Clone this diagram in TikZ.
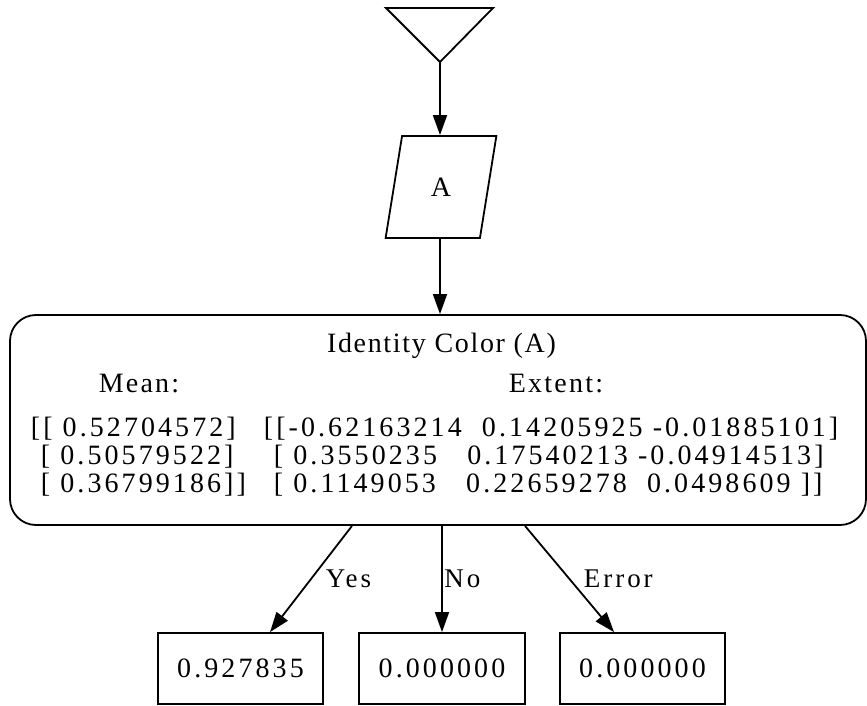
\documentclass[tikz,border=0pt]{standalone}
\usepackage{fontspec}
\setmainfont{Liberation Serif}[LetterSpace=11]
\newfontfamily\headfont{Liberation Serif}[LetterSpace=8]
\newfontfamily\titlefont{Liberation Serif}[LetterSpace=6]
\usetikzlibrary{arrows.meta,shapes.geometric,positioning}

\tikzset{
  data/.style={draw,trapezium,trapezium left angle=77,trapezium right angle=103,
    trapezium stretches=true,minimum width=111pt,minimum height=102pt,inner sep=0pt},
  bigbox/.style={draw,rounded corners=26pt,minimum width=856pt,minimum height=210pt},
  outbox/.style={draw,minimum width=165pt,minimum height=71pt,inner sep=0pt},
  txt/.style={inner sep=0pt,anchor=base},
  row/.style={inner sep=0pt,anchor=base west},
  lbl/.style={inner sep=0pt,anchor=west,font=\fontsize{27}{32}\selectfont}
}

\begin{document}
\begin{tikzpicture}[x=1pt,y=-1pt,>={Triangle[length=20pt,width=14pt]},line width=1.8pt,
  every node/.append style={font=\fontsize{28}{33}\selectfont}]
\useasboundingbox (0,0) rectangle (867,706);
% start marker
\draw (386,8) -- (493,8) -- (440,62) -- cycle;
\coordinate (start) at (440,62);
\node[data] (A) at (441,187) {A};
\node[bigbox] (ident) at (438,420) {};
% text of the big box
\node[txt] (title) at (441.5,352) {\titlefont Identity Color (A)};
\node[txt] (meanhd) at (139,392) {\headfont Mean:};
\node[txt] (exthd) at (556,392) {\headfont Extent:};
\node[row] (m1) at (30,436) {[[ 0.52704572]};
\node[row] (m2) at (30,464) {~[ 0.50579522]};
\node[row] (m3) at (30,492) {~[ 0.36799186]]};
\node[row] (e1) at (263,436) {[[-0.62163214~~0.14205925 -0.01885101]};
\node[row] (e2) at (263,464) {~[ 0.3550235~~~0.17540213 -0.04914513]};
\node[row] (e3) at (263,492) {~[ 0.1149053~~~0.22659278~~0.0498609 ]]};
% results
\node[outbox] (yes) at (240.5,668.5) {0.927835};
\node[outbox,minimum width=166pt] (no) at (442,668.5) {0.000000};
\node[outbox] (err) at (642.5,668.5) {0.000000};
\draw[->] (start) -- (start |- A.north);
\draw[->] (start |- A.south) -- (start |- ident.north);
\draw[->] ([xshift=-86pt]ident.south) -- node[lbl,pos=.5,xshift=14pt] {Yes} ([xshift=29.5pt]yes.north);
\draw[->] (no.north |- ident.south) -- node[lbl,pos=.5,xshift=1.5pt] {No} (no.north);
\draw[->] ([xshift=87pt]ident.south) -- node[lbl,pos=.5,xshift=13.5pt] {Error} ([xshift=-28.5pt]err.north);
\end{tikzpicture}
\end{document}
